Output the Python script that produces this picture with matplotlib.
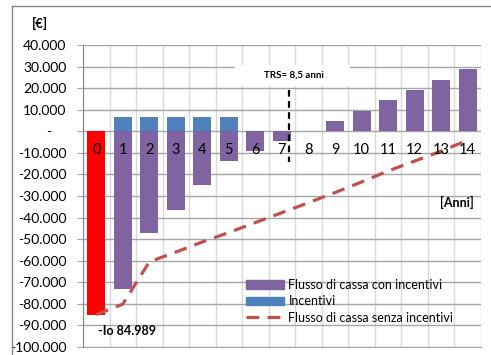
import matplotlib
matplotlib.use('Agg')
import matplotlib.pyplot as plt
from matplotlib.patches import Rectangle, Patch
from matplotlib.lines import Line2D
import numpy as np

plt.rcParams['font.family'] = ['Lato', 'DejaVu Sans']

# cash flow data (EUR)
anni = list(range(15))
investimento = [-84989] + [0] * 14
flusso_con_incentivi = [0, -73200, -47300, -36500, -25100, -13900, -9300, -4700,
                        0, 4600, 9500, 14600, 19200, 23800, 28900]
incentivi = [0, 6600, 6600, 6600, 6600, 6600, 0, 0, 0, 0, 0, 0, 0, 0, 0]
flusso_senza_incentivi = [-84989, -80100, -60500, -56000, -51300, -46900, -42300,
                          -37700, -33100, -28400, -23500, -18400, -13800, -9200, -4100]
y_ticks = list(range(-100000, 40001, 10000))
trs_x = 7.28

PURPLE = '#8064A2'
BLUE = '#4F81BD'
RED = '#FF0000'
LINE_RED = '#C0504D'

W, H = 491, 355
fig = plt.figure(figsize=(W / 100, H / 100), dpi=100)
ax = fig.add_axes([83 / W, 8 / H, 398 / W, 302 / H])

x = np.array(anni)
bw = 0.68
ax.bar(x[1:], flusso_con_incentivi[1:], width=bw, color=PURPLE, zorder=3)
ax.bar(x[1:], incentivi[1:], width=bw, color=BLUE, zorder=3)
ax.bar(x[0], investimento[0], width=bw, color=RED, zorder=3)

ax.plot(x, flusso_senza_incentivi, color=LINE_RED, lw=2.3,
        dashes=(4, 2.6), zorder=4, solid_capstyle='butt')

ax.set_xlim(-0.5, 14.5)
ax.set_ylim(-100000, 40000)

# grid: darker horizontal, lighter vertical at category boundaries
for v in y_ticks:
    ax.axhline(v, color='#A6A6A6', lw=1, zorder=1)
for b in np.arange(-0.5, 15, 1):
    ax.axvline(b, color='#D9D9D9', lw=1, zorder=0.5)

ax.set_xticks([])
ax.set_yticks(y_ticks)
ax.set_yticklabels([('-    ' if v == 0 else f'{v:,.0f}'.replace(',', '.')) for v in y_ticks],
                   fontsize=10)
ax.tick_params(axis='y', length=4, color='#A6A6A6', pad=8)
for s in ['top', 'right']:
    ax.spines[s].set_visible(False)
ax.spines['left'].set_color('#868686')
ax.spines['bottom'].set_color('#A6A6A6')

# category labels sitting next to the zero line
for i in anni:
    ax.text(i, -8900, str(i), ha='center', va='center', fontsize=10.5, zorder=6)

# payback marker
ax.add_patch(Rectangle((5.24, 21100), 4.34, 9800, facecolor='white',
                       edgecolor='none', zorder=2))
ax.text(7.45, 26000, 'TRS= 8,5 anni', ha='center', va='center', fontsize=7,
        fontweight='bold', zorder=6)
ax.plot([trs_x, trs_x], [19300, -14100], color='black', lw=1.6,
        dashes=(3, 2), zorder=5)

ax.text(0.066, -92800, '-Io 84.989', ha='left', va='center', fontsize=9,
        fontweight='bold', zorder=6)
ax.text(14.22, -33100, '[Anni]', ha='right', va='center', fontsize=9,
        fontweight='bold', zorder=6)
fig.text(40 / W, 1 - 23 / H, '[€]', ha='center', va='center', fontsize=9.5,
         fontweight='bold')

handles = [Patch(color=PURPLE), Patch(color=BLUE),
           Line2D([], [], color=LINE_RED, lw=2.3, dashes=(4, 2.6))]
labels = ['Flusso di cassa con incentivi', 'Incentivi',
          'Flusso di cassa senza incentivi']
leg = ax.legend(handles, labels, loc='upper left',
                bbox_to_anchor=(246 / W, 1 - 279 / H), bbox_transform=fig.transFigure,
                frameon=False, fontsize=9, handlelength=3.0, handletextpad=0.4,
                labelspacing=0.35, borderaxespad=0, borderpad=0)
leg.set_zorder(7)

# outer chart border
fig.add_artist(Line2D([12 / W, 12 / W], [0, 1 - 6 / H], color='#868686', lw=1))
fig.add_artist(Line2D([12 / W, 1], [1 - 6 / H, 1 - 6 / H], color='#868686', lw=1))

fig.savefig('out.png', dpi=100)
